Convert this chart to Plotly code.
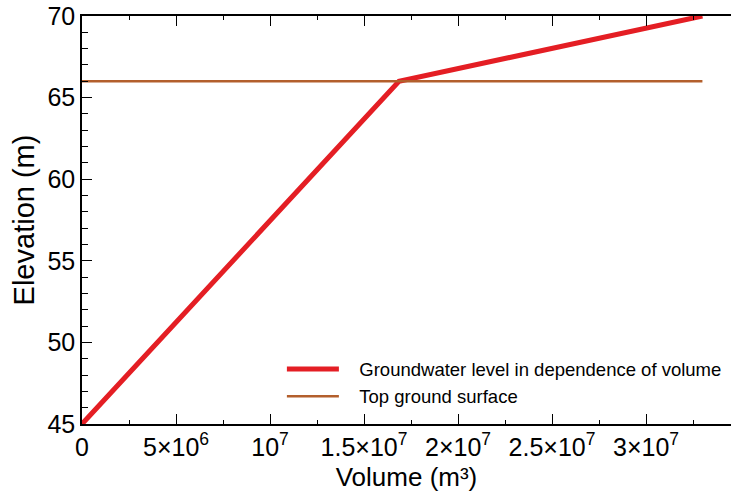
import plotly.graph_objects as go

# Groundwater level vs stored volume
volume = [0, 1.686e7, 3.30e7]
level = [45, 66, 70]

# Top ground surface elevation
surface_x = [0, 3.30e7]
surface_y = [66, 66]

x_tickvals = [0, 5e6, 1e7, 1.5e7, 2e7, 2.5e7, 3e7]
x_ticktext = ["0", "5×10<sup>6</sup>", "10<sup>7</sup>", "1.5×10<sup>7</sup>",
              "2×10<sup>7</sup>", "2.5×10<sup>7</sup>", "3×10<sup>7</sup>"]
y_tickvals = [45, 50, 55, 60, 65, 70]

FONT = "Liberation Sans, Arial, sans-serif"
PAD = "\u00a0\u00a0\u00a0"

fig = go.Figure()
fig.add_trace(go.Scatter(x=volume, y=level, mode="lines",
                         name=PAD + "Groundwater level in dependence of volume",
                         line=dict(color="#e41e24", width=5)))
fig.add_trace(go.Scatter(x=surface_x, y=surface_y, mode="lines",
                         name=PAD + "Top ground surface",
                         line=dict(color="#b35f2c", width=2.5)))

fig.update_layout(
    width=731, height=492,
    margin=dict(l=82, r=0, t=16, b=68),
    plot_bgcolor="white", paper_bgcolor="white",
    font=dict(family=FONT, color="black"),
    showlegend=True,
    legend=dict(x=0.308, y=0.18, xanchor="left", yanchor="top",
                bgcolor="rgba(0,0,0,0)", font=dict(size=18.5, family=FONT),
                itemwidth=52, tracegroupgap=0),
    xaxis=dict(range=[0, 3.452e7], tickvals=x_tickvals, ticktext=x_ticktext,
               ticks="inside", ticklen=10, tickwidth=1, tickcolor="black",
               showline=True, linecolor="black", linewidth=1.5, mirror="allticks",
               showgrid=False, zeroline=False,
               tickfont=dict(size=25, family=FONT),
               title=dict(text="Volume (m³)", font=dict(size=26, family=FONT), standoff=9),
               minor=dict(dtick=2.5e6, tick0=0, ticks="inside", ticklen=4,
                          tickcolor="black", tickwidth=1, showgrid=False)),
    yaxis=dict(range=[45, 70], tickvals=y_tickvals,
               ticks="inside", ticklen=10, tickwidth=1, tickcolor="black",
               showline=True, linecolor="black", linewidth=1.5,
               showgrid=False, zeroline=False,
               tickfont=dict(size=25, family=FONT),
               title=dict(text="Elevation (m)", font=dict(size=29, family=FONT), standoff=4),
               minor=dict(dtick=1, tick0=45, ticks="inside", ticklen=6,
                          tickcolor="black", tickwidth=1, showgrid=False)),
)

fig.write_html("out.html")
